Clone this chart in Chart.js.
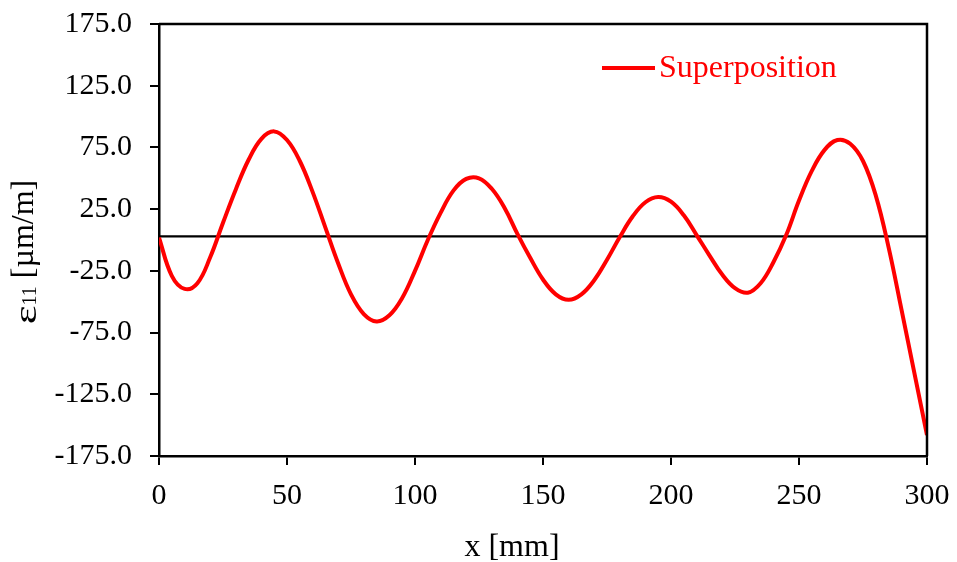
<!DOCTYPE html>
<html>
<head>
<meta charset="utf-8">
<script src="https://cdn.jsdelivr.net/npm/chart.js@4"></script>
<style>
  html, body { margin: 0; padding: 0; background: #fff; }
  #wrap { width: 957px; height: 562px; }
</style>
</head>
<body>
<div id="wrap"><canvas id="strainChart" width="957" height="562"></canvas></div>
<script>
// posiciones x [mm] y deformacion
const xPos = [0, 5, 10, 15, 20, 25, 30, 35, 40, 45, 50, 55, 60, 65, 70, 75, 80, 85,
  90, 95, 100, 105, 110, 115, 120, 125, 130, 135, 140, 145, 150, 155, 160,
  165, 170, 175, 180, 185, 190, 195, 200, 205, 210, 215, 220, 225, 230,
  235, 240, 245, 250, 255, 260, 265, 270, 275, 280, 285, 290, 295, 300];
const strain = [2, -29, -39.6, -35, -14, 14, 41, 65, 82, 88, 81, 64, 39, 10, -19, -44, -60, -66,
  -61, -47, -25, 0, 22, 40, 49.5, 50, 41.5, 26, 5, -14.4, -32, -44, -48.4,
  -44, -32.6, -16, 2.4, 19, 30.6, 34.8, 31, 20, 4, -12.4, -28, -39, -42.7,
  -35, -18, 4, 32, 56, 73, 81, 78, 64, 36, -6, -56, -107, -158];
// linea de referencia horizontal
const refX = [0, 300];
const refY = [3, 3];
const yTicks = [-175, -125, -75, -25, 25, 75, 125, 175];
const xTicks = [0, 50, 100, 150, 200, 250, 300];

const serif = "'Liberation Serif', 'Times New Roman', serif";
const FS = 30;

// marco, leyenda y titulos de los ejes
const extras = {
  id: 'extras',
  afterDraw(chart) {
    const c = chart.ctx;
    const a = chart.chartArea;
    c.save();
    c.strokeStyle = '#000';
    c.lineWidth = 2.5;
    c.beginPath();
    c.moveTo(a.left, a.top);
    c.lineTo(a.right, a.top);
    c.lineTo(a.right, a.bottom);
    c.stroke();

    // leyenda
    c.strokeStyle = '#ff0000';
    c.lineWidth = 4;
    c.beginPath();
    c.moveTo(602, 68);
    c.lineTo(655, 68);
    c.stroke();
    c.fillStyle = '#ff0000';
    c.font = '32px ' + serif;
    c.textBaseline = 'alphabetic';
    c.fillText(chart.data.datasets[0].label, 659, 77);

    // titulo eje x
    c.fillStyle = '#000';
    c.textAlign = 'center';
    c.fillText('x [mm]', 512, 556);

    // titulo eje y
    c.textAlign = 'left';
    c.translate(33, 252);
    c.rotate(-Math.PI / 2);
    c.font = '32px ' + serif;
    const w1 = c.measureText('ε').width * 1.4;
    c.font = '20px ' + serif;
    const w2 = c.measureText('11').width;
    c.font = '32px ' + serif;
    const p3 = ' [µm/m]';
    const w3 = c.measureText(p3).width;
    const x0 = -(w1 + w2 + w3) / 2;
    c.save();
    c.translate(x0, 3);
    c.scale(1.4, 1);
    c.fillText('ε', 0, 0);
    c.restore();
    c.font = '20px ' + serif;
    c.fillText('11', x0 + w1, 3);
    c.font = '32px ' + serif;
    c.fillText(p3, x0 + w1 + w2, 0);
    c.restore();
  }
};

new Chart(document.getElementById('strainChart'), {
  type: 'line',
  data: {
    datasets: [{
      label: 'Superposition',
      data: xPos.map((x, i) => ({ x: x, y: strain[i] })),
      borderColor: '#ff0000',
      borderWidth: 4,
      pointRadius: 0,
      tension: 0.4,
      fill: false
    }, {
      label: 'ref',
      data: refX.map((x, i) => ({ x: x, y: refY[i] })),
      borderColor: '#000',
      borderWidth: 2.2,
      pointRadius: 0
    }]
  },
  options: {
    responsive: false,
    animation: false,
    layout: { padding: { top: 24, right: 30, left: 0, bottom: 0 } },
    plugins: { legend: { display: false }, tooltip: { enabled: false } },
    scales: {
      x: {
        type: 'linear',
        min: 0, max: 300,
        afterBuildTicks: s => { s.ticks = xTicks.map(v => ({ value: v })); },
        afterFit: s => { s.height = 106; s.paddingLeft = 0; s.paddingRight = 0; },
        grid: { drawOnChartArea: false, drawTicks: true, tickLength: 9, color: '#000', lineWidth: 2 },
        border: { display: true, color: '#000', width: 2.5 },
        ticks: { color: '#000', font: { family: serif, size: FS }, padding: 13, maxRotation: 0 }
      },
      y: {
        min: -175, max: 175,
        afterBuildTicks: s => { s.ticks = yTicks.map(v => ({ value: v })); },
        afterFit: s => { s.width = 159; s.paddingTop = 0; s.paddingBottom = 0; },
        grid: { drawOnChartArea: false, drawTicks: true, tickLength: 9, color: '#000', lineWidth: 2 },
        border: { display: true, color: '#000', width: 2.5 },
        ticks: { color: '#000', font: { family: serif, size: FS }, padding: 18, callback: v => v.toFixed(1) }
      }
    }
  },
  plugins: [extras]
});
</script>
</body>
</html>
